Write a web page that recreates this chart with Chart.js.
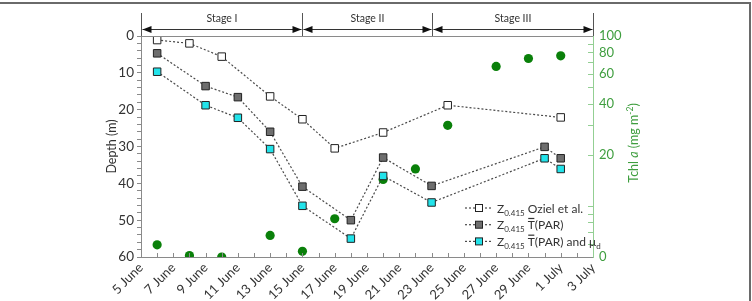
<!DOCTYPE html>
<html>
<head>
<meta charset="utf-8">
<script src="https://cdn.jsdelivr.net/npm/chart.js@4.4.1/dist/chart.umd.min.js"></script>
<style>
  html, body { margin: 0; padding: 0; background: #fff; }
  #wrap { width: 752px; height: 301px; }
</style>
</head>
<body>
<div id="wrap"><canvas id="depthChart" width="752" height="301"></canvas></div>
<script>
// values (dates as MM-DD, depth in m, Tchl a in mg m-2)
const ozielDates = ['06-06', '06-08', '06-10', '06-13', '06-15', '06-17', '06-20', '06-24', '07-01']
const ozielDepth = [1.1, 2.0, 5.6, 16.4, 22.6, 30.5, 26.2, 18.8, 22.1]

const parDates = ['06-06', '06-09', '06-11', '06-13', '06-15', '06-18', '06-20', '06-23', '06-30', '07-01']
const parDepth = [4.7, 13.6, 16.6, 26.0, 40.9, 50.0, 33.0, 40.7, 30.1, 33.2]
const parMuDepth = [9.7, 18.8, 22.2, 30.7, 46.1, 55.0, 38.0, 45.2, 33.2, 36.1]

const chlDates = ['06-06', '06-08', '06-10', '06-13', '06-15', '06-17', '06-20', '06-22', '06-24', '06-27', '06-29', '07-01']
const chlValues = [5.9, 5.1, 5.0, 6.7, 5.4, 8.4, 14.3, 16.5, 29.8, 66.2, 73.7, 76.4]

const dateLabels = ['5 June', '7 June', '9 June', '11 June', '13 June', '15 June', '17 June', '19 June',
    '21 June', '23 June', '25 June', '27 June', '29 June', '1 July', '3 July']

const stageNames = ['Stage I', 'Stage II', 'Stage III']
const stageBounds = ['06-05', '06-15', '06-23', '07-03']

const chlTicks = [5, 6, 7, 8, 9, 10, 20, 30, 40, 50, 60, 70, 80, 90, 100]
const chlLabels = { 5: '0', 20: '20', 40: '40', 60: '60', 80: '80', 100: '100' }

const FONT = 'Lato, "Open Sans", sans-serif'
const GREEN = '#0a800a'
const GREEN_TEXT = '#3f9e3f'
const GREEN_AXIS = '#93cf93'

// days since 5 June
function dayOffset(s) {
    const [m, d] = s.split('-').map(Number)
    return (Date.UTC(2000, m - 1, d) - Date.UTC(2000, 5, 5)) / 86400000
}

function points(dates, values) {
    return dates.map((d, i) => ({ x: dayOffset(d), y: values[i] }))
}

function seg(ctx, x1, y1, x2, y2) {
    ctx.beginPath()
    ctx.moveTo(x1, y1)
    ctx.lineTo(x2, y2)
    ctx.stroke()
}

function arrowHead(ctx, tipX, y, dir) {
    ctx.beginPath()
    ctx.moveTo(tipX, y)
    ctx.lineTo(tipX - dir * 9, y - 3.5)
    ctx.lineTo(tipX - dir * 9, y + 3.5)
    ctx.closePath()
    ctx.fill()
}

// draw a run of text pieces; each piece {t, size, dy, italic, bar}
function drawRuns(ctx, runs, x, y) {
    let cx = x
    runs.forEach(r => {
        ctx.font = (r.italic ? 'italic ' : '') + r.size + 'px ' + FONT
        ctx.fillText(r.t, cx, y + (r.dy || 0))
        const w = ctx.measureText(r.t).width
        if (r.bar) {
            // overline (T bar)
            ctx.fillRect(cx + 0.5, y - r.size * 0.86 - 1, w - 1, 1.2)
        }
        cx += w
    })
    return cx - x
}

const seriesStyle = {
    type: 'line',
    yAxisID: 'y',
    borderColor: '#4a4a4a',
    borderWidth: 1.2,
    borderDash: [2, 2],
    pointStyle: 'rect',
    pointRadius: 5.3,
    pointBorderColor: '#222',
    pointBorderWidth: 1,
    tension: 0,
    order: 1
}

const overlay = {
    id: 'overlay',
    afterDraw(chart) {
        const { ctx, chartArea: a, scales } = chart
        const xs = scales.x
        const y2 = scales.y2
        ctx.save()

        // figure frame (top and right)
        ctx.strokeStyle = '#6a6a6a'
        ctx.lineWidth = 2
        ctx.beginPath()
        ctx.moveTo(0, 3)
        ctx.lineTo(750, 3)
        ctx.lineTo(750, 301)
        ctx.stroke()

        // top edge of plot
        ctx.strokeStyle = '#8a8a8a'
        ctx.lineWidth = 1
        seg(ctx, a.left, a.top + 0.5, a.right, a.top + 0.5)

        // inward day ticks on the bottom axis
        for (let v = 1; v < 28; v++) {
            const px = Math.round(xs.getPixelForValue(v)) + 0.5
            seg(ctx, px, a.bottom, px, a.bottom - 4)
        }

        // inward ticks on the Tchl axis
        ctx.strokeStyle = GREEN_AXIS
        chlTicks.forEach(v => {
            if (v === 5 || v === 100) return
            const py = Math.round(y2.getPixelForValue(v)) + 0.5
            seg(ctx, a.right, py, a.right - 5, py)
        })

        // stage header
        ctx.strokeStyle = '#555'
        const arrowY = 29.5
        const bx = stageBounds.map(d => Math.round(xs.getPixelForValue(dayOffset(d))) + 0.5)
        bx.forEach(px => seg(ctx, px, 13, px, a.top))
        stageNames.forEach((name, i) => {
            const l = bx[i] + 1
            const r = bx[i + 1] - 1
            ctx.strokeStyle = '#333'
            seg(ctx, l, arrowY, r, arrowY)
            ctx.fillStyle = '#111'
            arrowHead(ctx, l, arrowY, -1)
            arrowHead(ctx, r, arrowY, 1)
            ctx.fillStyle = '#333'
            ctx.font = '10.5px ' + FONT
            ctx.textAlign = 'center'
            ctx.textBaseline = 'middle'
            ctx.fillText(name, (l + r) / 2, 19)
        })

        // legend
        ctx.textAlign = 'left'
        ctx.textBaseline = 'alphabetic'
        const legendRows = [
            { fill: '#ffffff', runs: [{ t: 'Z', size: 12 }, { t: '0.415', size: 8, dy: 3 }, { t: ' Oziel et al.', size: 12 }] },
            { fill: '#6e6e6e', runs: [{ t: 'Z', size: 12 }, { t: '0.415', size: 8, dy: 3 }, { t: ' ', size: 12 }, { t: 'T', size: 12, bar: true }, { t: '(PAR)', size: 12 }] },
            { fill: '#22e3ea', runs: [{ t: 'Z', size: 12 }, { t: '0.415', size: 8, dy: 3 }, { t: ' ', size: 12 }, { t: 'T', size: 12, bar: true }, { t: '(PAR) and \u03bc', size: 12 }, { t: 'd', size: 8, dy: 3 }] }
        ]
        legendRows.forEach((row, i) => {
            const ly = 208 + i * 16.7
            ctx.strokeStyle = '#4a4a4a'
            ctx.lineWidth = 1.2
            ctx.setLineDash([2, 2])
            seg(ctx, 465, ly, 493, ly)
            ctx.setLineDash([])
            ctx.lineWidth = 1
            ctx.fillStyle = row.fill
            ctx.fillRect(475.5, ly - 3.5, 7, 7)
            ctx.strokeStyle = '#222'
            ctx.strokeRect(475.5, ly - 3.5, 7, 7)
            ctx.fillStyle = '#333'
            drawRuns(ctx, row.runs, 497, ly + 4.5)
        })

        // right axis title
        ctx.save()
        ctx.translate(634, 143)
        ctx.rotate(-Math.PI / 2)
        ctx.fillStyle = GREEN_TEXT
        const titleRuns = [
            { t: 'Tchl ', size: 12.5 }, { t: 'a', size: 12.5, italic: true }, { t: ' (mg m', size: 12.5 },
            { t: '-2', size: 8.5, dy: -5 }, { t: ')', size: 12.5 }
        ]
        ctx.globalAlpha = 0
        const w = drawRuns(ctx, titleRuns, 0, 0)
        ctx.globalAlpha = 1
        drawRuns(ctx, titleRuns, -w / 2, 4)
        ctx.restore()

        ctx.restore()
    }
}

new Chart(document.getElementById('depthChart'), {
    data: {
        datasets: [
            {
                ...seriesStyle,
                label: 'Z0.415 Oziel et al.',
                data: points(ozielDates, ozielDepth),
                pointBackgroundColor: '#ffffff'
            },
            {
                ...seriesStyle,
                label: 'Z0.415 T(PAR)',
                data: points(parDates, parDepth),
                pointBackgroundColor: '#6e6e6e'
            },
            {
                ...seriesStyle,
                label: 'Z0.415 T(PAR) and mu_d',
                data: points(parDates, parMuDepth),
                pointBackgroundColor: '#22e3ea'
            },
            {
                type: 'line',
                label: 'Tchl a',
                yAxisID: 'y2',
                data: points(chlDates, chlValues),
                showLine: false,
                pointStyle: 'circle',
                pointRadius: 4.6,
                pointBackgroundColor: GREEN,
                pointBorderColor: GREEN,
                pointBorderWidth: 0,
                clip: 0,
                order: 5
            }
        ]
    },

    options: {
        responsive: false,
        animation: false,
        devicePixelRatio: 1,

        layout: {
            padding: { top: 36, left: 100, right: 0, bottom: 0 }
        },

        plugins: {
            legend: { display: false },
            tooltip: { enabled: false }
        },

        scales: {
            x: {
                type: 'linear',
                position: 'bottom',
                min: 0,
                max: 28,
                afterBuildTicks: s => {
                    s.ticks = dateLabels.map((_, i) => ({ value: i * 2 }))
                },
                afterFit: s => { s.height = 44 },
                ticks: {
                    autoSkip: false,
                    minRotation: 45,
                    maxRotation: 45,
                    padding: 3,
                    color: '#333',
                    font: { family: FONT, size: 13 },
                    callback: v => dateLabels[v / 2]
                },
                grid: { drawOnChartArea: false, drawTicks: false },
                border: { color: '#8a8a8a' }
            },
            y: {
                type: 'linear',
                position: 'left',
                reverse: true,
                min: 0,
                max: 60,
                afterFit: s => { s.width = 41 },
                ticks: {
                    stepSize: 2,
                    autoSkip: false,
                    padding: 3,
                    color: '#333',
                    font: { family: FONT, size: 13.5 },
                    callback: v => (v % 10 === 0 ? v : '')
                },
                grid: { drawOnChartArea: false, tickLength: 4, color: '#8a8a8a' },
                border: { color: '#8a8a8a' },
                title: {
                    display: true,
                    text: 'Depth (m)',
                    color: '#333',
                    font: { family: FONT, size: 12.5 },
                    padding: { top: 4, bottom: 0 }
                }
            },
            y2: {
                type: 'logarithmic',
                position: 'right',
                min: 5,
                max: 100,
                afterBuildTicks: s => {
                    s.ticks = chlTicks.map(v => ({ value: v }))
                },
                afterFit: s => { s.width = 159 },
                ticks: {
                    autoSkip: false,
                    padding: 6,
                    color: GREEN_TEXT,
                    font: { family: FONT, size: 13 },
                    callback: v => chlLabels[v] || ''
                },
                grid: { drawOnChartArea: false, drawTicks: false },
                border: { color: GREEN_AXIS }
            }
        }
    },

    plugins: [overlay]
})
</script>
</body>
</html>
